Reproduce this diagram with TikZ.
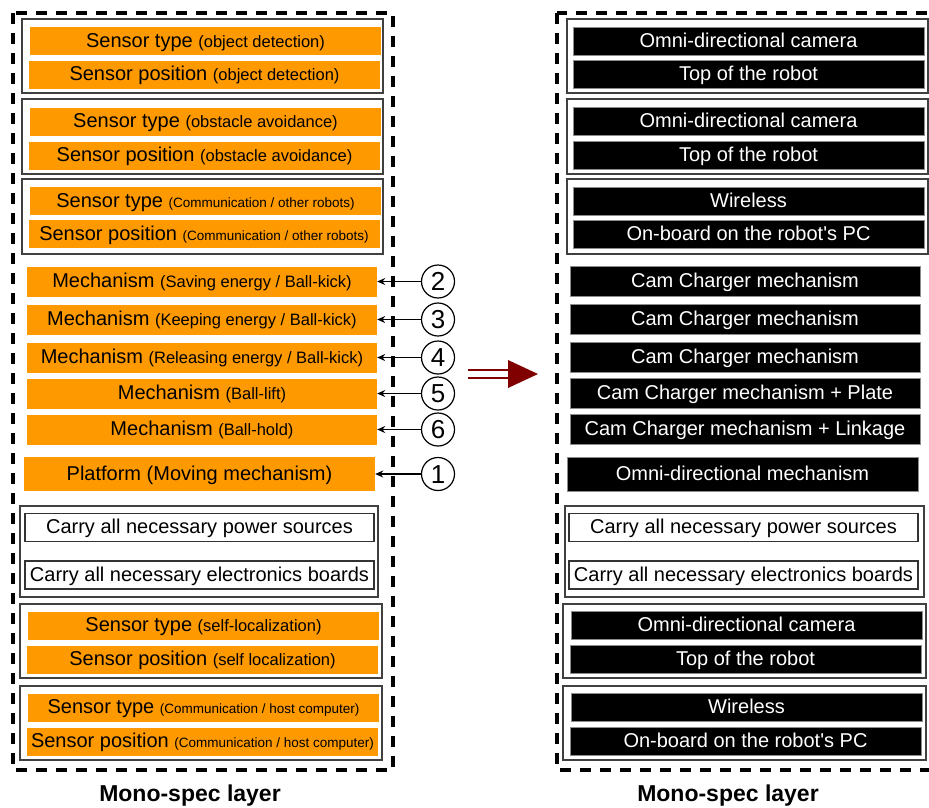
\documentclass[tikz,border=0pt]{standalone}
\usepackage{fontspec}
\setmainfont{Liberation Sans}
\usetikzlibrary{arrows.meta}

\definecolor{barorange}{HTML}{FF9900}
\definecolor{arrowred}{HTML}{800000}
\newcommand{\midnote}[1]{{\fontsize{16.5}{18}\selectfont #1}}
\newcommand{\tinynote}[1]{{\fontsize{13.5}{15}\selectfont #1}}

\begin{document}
\begin{tikzpicture}[x=1pt, y=-1pt,
    every node/.style={font=\fontsize{20}{22}\selectfont, inner sep=0pt, text height=16pt, text depth=4pt},
    obar/.style={fill=barorange, minimum width=351pt, minimum height=28pt},
    kbar/.style={fill=black, draw=black!45, line width=0.8pt, text=white, minimum width=351pt, minimum height=28pt},
    wbar/.style={draw=black!80, line width=1.5pt, fill=white, minimum width=349pt, minimum height=28pt},
    group/.style={draw=black!75, line width=1.2pt},
    frame/.style={line width=3.4pt, dash pattern=on 11pt off 9pt},
    num/.style={circle, draw, line width=1.2pt, minimum size=33pt, text height=18.5pt, text depth=0pt, font=\fontsize{26}{28}\selectfont},
    pointer/.style={line width=1.2pt, -{Stealth[length=8pt, width=7pt]}},
    caption/.style={font=\fontsize{23}{25}\selectfont\bfseries, text height=17pt, text depth=5pt}
]

    \useasboundingbox (0,0) rectangle (929,807);
    \clip (0,0) rectangle (929,807);

    % Left layer: frame and groups
    \draw[frame] (13,13) rectangle (393,770);
    \draw[group] (22,19) rectangle (383,93);
    \draw[group] (22,99) rectangle (383,174);
    \draw[group] (22,179) rectangle (383,254);
    \draw[group] (20,506) rectangle (378,597);
    \draw[group] (20,604) rectangle (382,678);
    \draw[group] (20,686) rectangle (382,760);

    % Left layer: sensors
    \node[obar] (ltype1) at (205.5,41) {Sensor type \midnote{(object detection)}};
    \node[obar] (lpos1) at (204.5,74.5) {Sensor position \midnote{(object detection)}};
    \node[obar] (ltype2) at (205.5,121.5) {Sensor type \midnote{(obstacle avoidance)}};
    \node[obar] (lpos2) at (204.5,155.5) {Sensor position \midnote{(obstacle avoidance)}};
    \node[obar] (ltype3) at (205.5,201) {Sensor type \tinynote{(Communication / other robots)}};
    \node[obar] (lpos3) at (204,234) {Sensor position \tinynote{(Communication / other robots)}};

    % Left layer: mechanisms
    \node[obar, minimum width=350pt, minimum height=30pt] (mech2) at (202,281.5) {Mechanism \midnote{(Saving energy / Ball-kick)}};
    \node[obar, minimum width=350pt, minimum height=30pt] (mech3) at (202,319.5) {Mechanism \midnote{(Keeping energy / Ball-kick)}};
    \node[obar, minimum width=350pt, minimum height=30pt] (mech4) at (202,357.5) {Mechanism \midnote{(Releasing energy / Ball-kick)}};
    \node[obar, minimum width=350pt, minimum height=30pt] (mech5) at (202,393.5) {Mechanism \midnote{(Ball-lift)}};
    \node[obar, minimum width=350pt, minimum height=30pt] (mech6) at (202,429.5) {Mechanism \midnote{(Ball-hold)}};
    \node[obar, minimum height=34pt] (plat) at (199.5,474) {Platform (Moving mechanism)};

    % Left layer: carrying
    \node[wbar] (lpower) at (199.5,527.5) {Carry all necessary power sources};
    \node[wbar] (lboards) at (199.5,575) {Carry all necessary electronics boards};

    % Left layer: localization and host link
    \node[obar] (ltype4) at (203.5,625.5) {Sensor type \midnote{(self-localization)}};
    \node[obar] (lpos4) at (202.5,659.5) {Sensor position \midnote{(self localization)}};
    \node[obar] (ltype5) at (203.5,707.5) {Sensor type \tinynote{(Communication / host computer)}};
    \node[obar] (lpos5) at (202.5,741.5) {Sensor position \tinynote{(Communication / host computer)}};

    % Numbered pointers
    \foreach \i/\y in {2/281.5, 3/319.5, 4/357.5, 5/393.5, 6/429.5}{
        \node[num] (n\i) at (438,\y) {\i};
        \draw[pointer] (n\i) -- (mech\i);
    }
    \node[num] (n1) at (438,474) {1};
    \draw[pointer] (n1) -- (plat);

    % Transition arrow
    \draw[arrowred, line width=2.4pt] (468,370) -- (512,370) (468,378) -- (512,378);
    \fill[arrowred] (508,360) -- (538,374) -- (508,388) -- cycle;

    % Right layer: frame and groups
    \draw[frame] (557,13) rectangle (945,770);
    \draw[group] (567,19) rectangle (928,93);
    \draw[group] (567,99) rectangle (928,174);
    \draw[group] (567,179) rectangle (928,254);
    \draw[group] (565,506) rectangle (924,597);
    \draw[group] (563,604) rectangle (926,678);
    \draw[group] (563,686) rectangle (926,760);

    % Right layer: sensors
    \node[kbar] (rtype1) at (748.5,41) {Omni-directional camera};
    \node[kbar] (rpos1) at (748.5,74.5) {Top of the robot};
    \node[kbar] (rtype2) at (748.5,121.5) {Omni-directional camera};
    \node[kbar] (rpos2) at (748.5,155.5) {Top of the robot};
    \node[kbar] (rtype3) at (748.5,201) {Wireless};
    \node[kbar] (rpos3) at (748.5,234) {On-board on the robot\textquotesingle s PC};

    % Right layer: mechanisms
    \node[kbar, minimum width=350pt, minimum height=30pt] (rmech2) at (745,281.5) {Cam Charger mechanism};
    \node[kbar, minimum width=350pt, minimum height=30pt] (rmech3) at (745,319.5) {Cam Charger mechanism};
    \node[kbar, minimum width=350pt, minimum height=30pt] (rmech4) at (745,357.5) {Cam Charger mechanism};
    \node[kbar, minimum width=350pt, minimum height=30pt] (rmech5) at (745,393.5) {Cam Charger mechanism + Plate};
    \node[kbar, minimum width=350pt, minimum height=30pt] (rmech6) at (745,429.5) {Cam Charger mechanism + Linkage};
    \node[kbar, minimum height=34pt] (rplat) at (742.5,474) {Omni-directional mechanism};

    % Right layer: carrying
    \node[wbar] (rpower) at (743.5,527.5) {Carry all necessary power sources};
    \node[wbar] (rboards) at (743.5,575) {Carry all necessary electronics boards};

    % Right layer: localization and host link
    \node[kbar] (rtype4) at (746.5,625.5) {Omni-directional camera};
    \node[kbar] (rpos4) at (745.5,659.5) {Top of the robot};
    \node[kbar] (rtype5) at (746.5,707.5) {Wireless};
    \node[kbar] (rpos5) at (745.5,741.5) {On-board on the robot\textquotesingle s PC};

    % Captions
    \node[caption] (lcap) at (190,795) {Mono-spec layer};
    \node[caption] (rcap) at (728,795) {Mono-spec layer};

\end{tikzpicture}
\end{document}
